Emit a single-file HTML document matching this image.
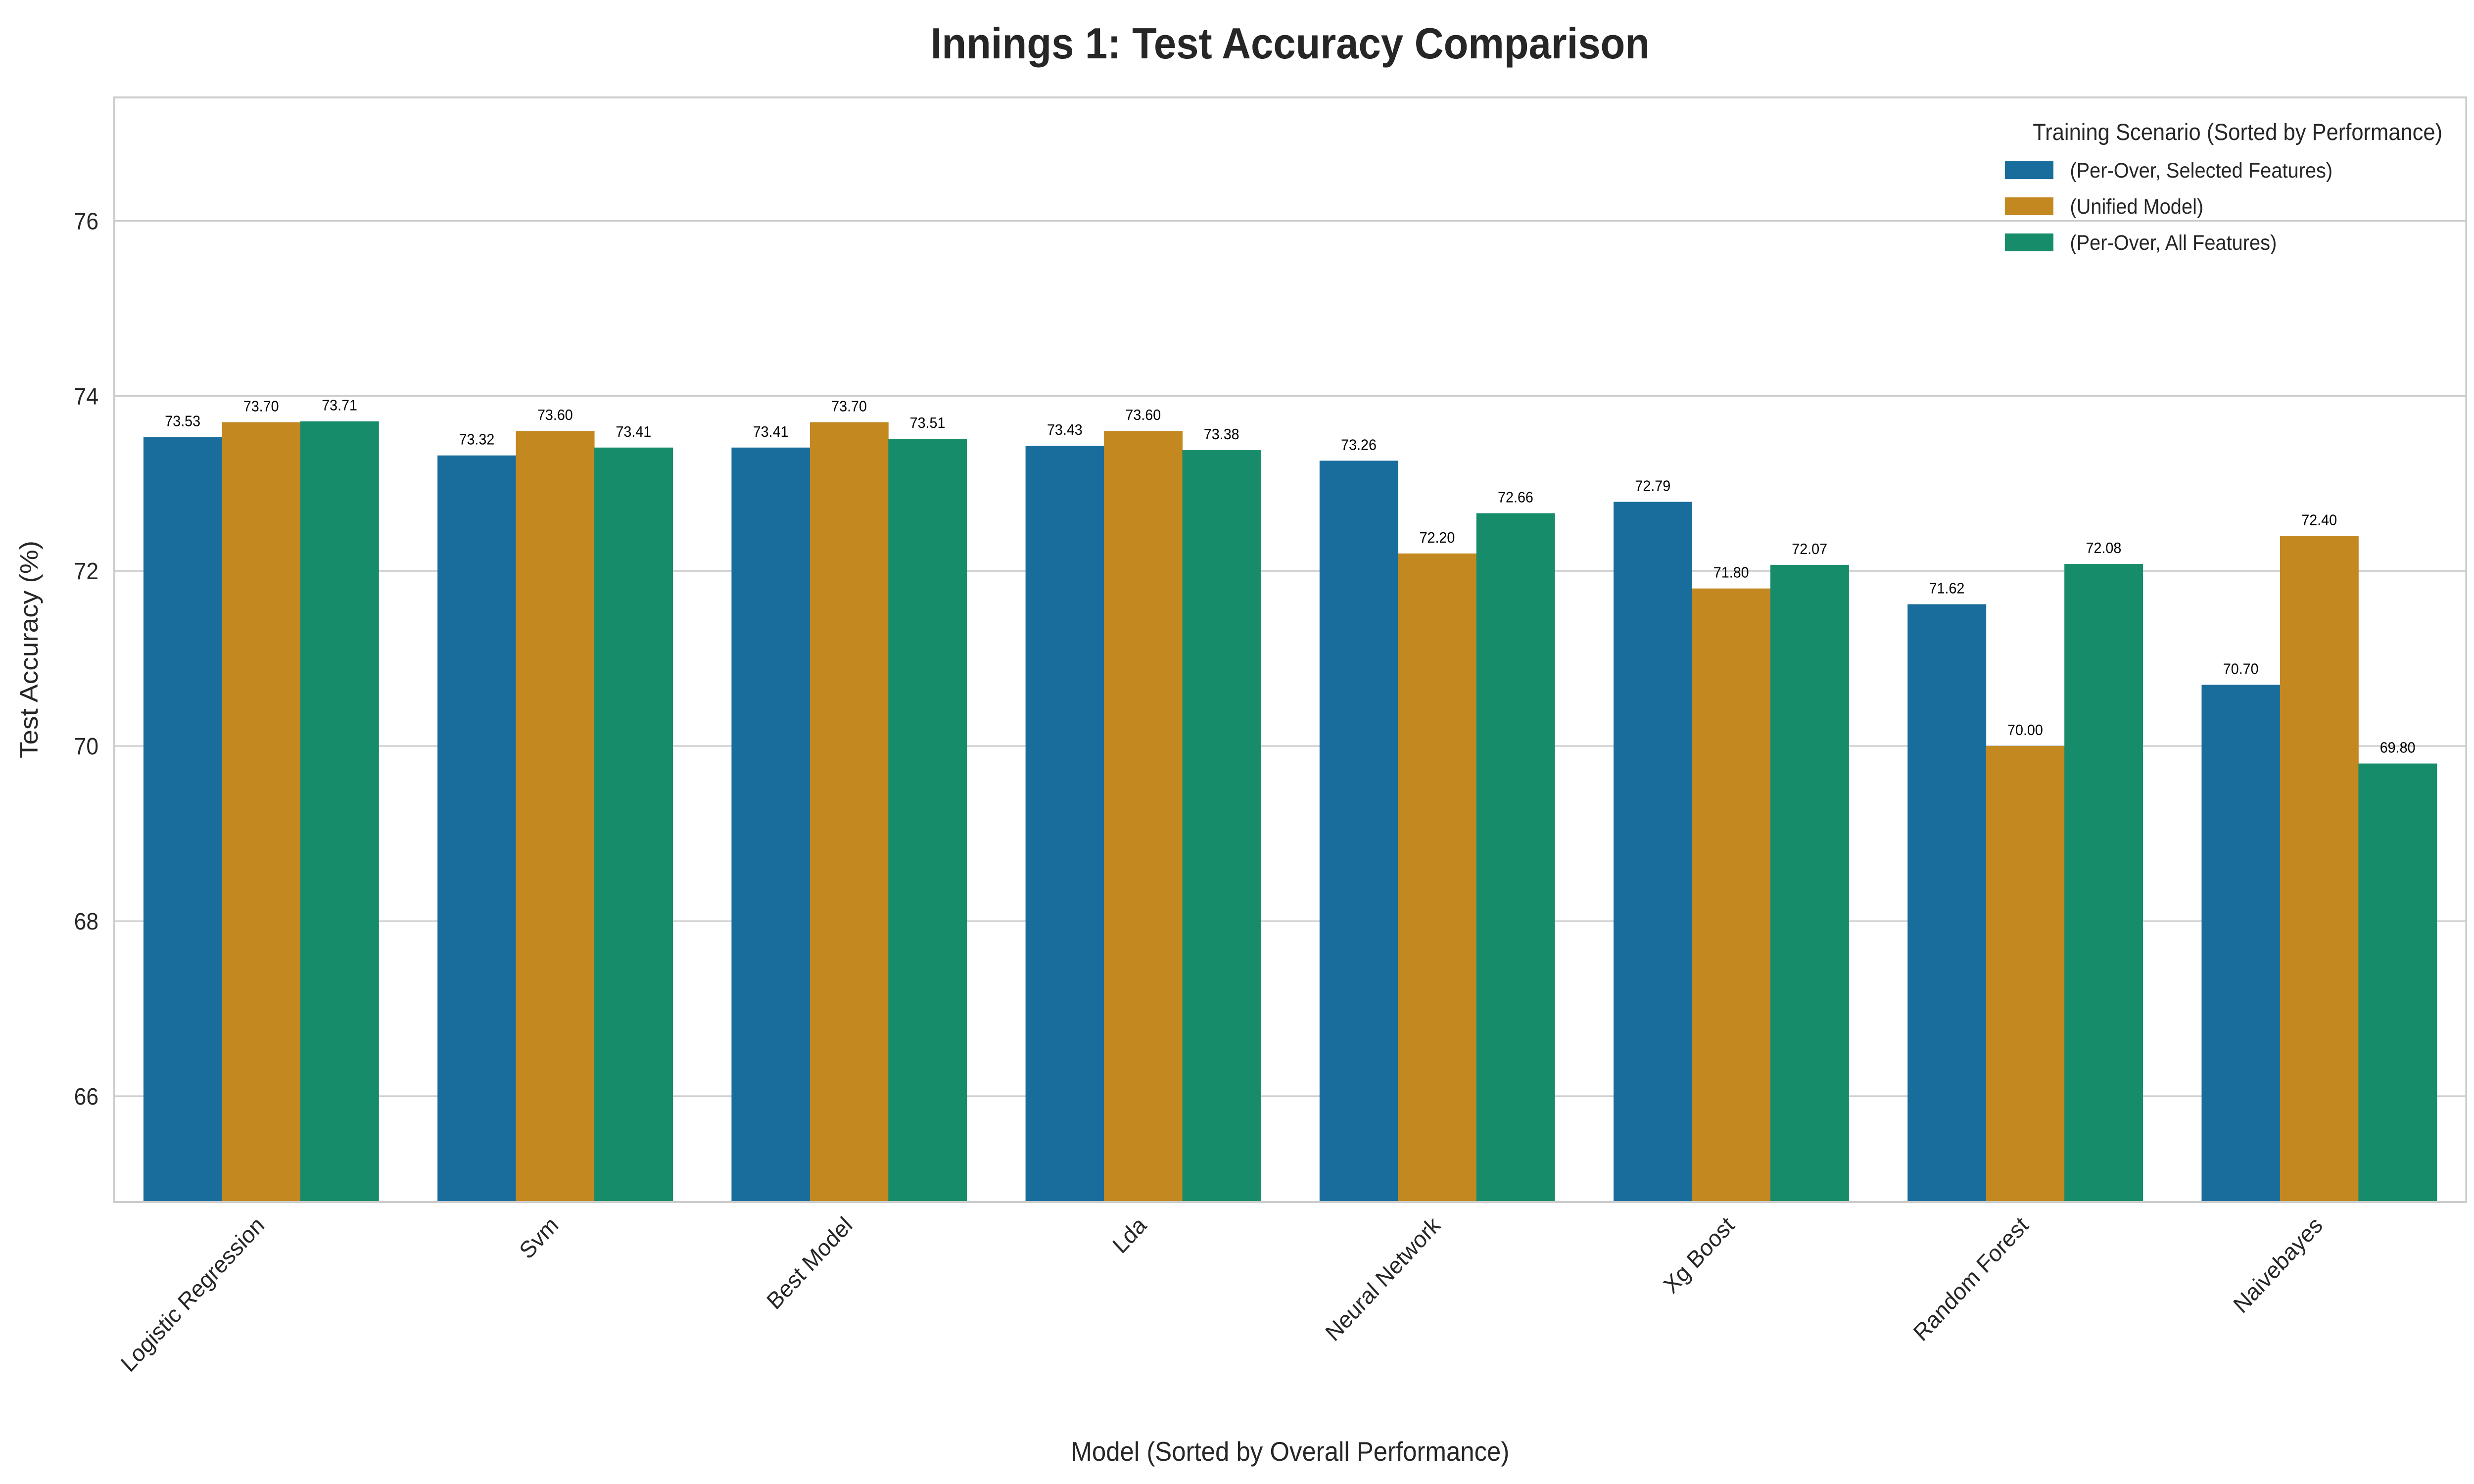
<!DOCTYPE html>
<html><head><meta charset="utf-8"><style>
html,body{margin:0;padding:0;background:#fff;overflow:hidden;width:100%;height:100%}
svg{display:block;position:fixed;left:0;top:0;width:100vw;height:100vh;font-family:"Liberation Sans",Arial,sans-serif}
</style></head><body>
<svg id="chart" viewBox="0 0 5400 3000" preserveAspectRatio="none">
<rect width="5400" height="3000" fill="#fff"/>
<text x="2816" y="118" text-anchor="middle" font-size="88" font-weight="bold" fill="#262626">Innings 1: Test Accuracy Comparison</text>
<g id="grid"></g>
<g id="bars"></g>
<g id="labels"></g>
<rect x="249" y="197" width="5134" height="2233" fill="none" stroke="#cccccc" stroke-width="4"/>
<g id="yticks"></g>
<g id="xticks"></g>
<text transform="translate(82,1313) rotate(-90)" text-anchor="middle" font-size="55" fill="#262626">Test Accuracy (%)</text>
<text x="2816" y="2953" text-anchor="middle" font-size="55" fill="#262626">Model (Sorted by Overall Performance)</text>
<g id="legend"></g>
</svg>
<script>
const categories = ["Logistic Regression","Svm","Best Model","Lda","Neural Network","Xg Boost","Random Forest","Naivebayes"];
const seriesNames = ["(Per-Over, Selected Features)","(Unified Model)","(Per-Over, All Features)"];
const perOverSelected = [73.53,73.32,73.41,73.43,73.26,72.79,71.62,70.70];
const unifiedModel = [73.70,73.60,73.70,73.60,72.20,71.80,70.00,72.40];
const perOverAll = [73.71,73.41,73.51,73.38,72.66,72.07,72.08,69.80];
const yTicks = [66,68,70,72,74,76];
const seriesValues = [perOverSelected, unifiedModel, perOverAll];
const colors = ["#186d9c","#c38820","#178c6a"];
const NS = "http://www.w3.org/2000/svg";
const L=249,R=5383,T=197,B=2430,yMin=64.79,yMax=77.41;
const y = v => B - (v-yMin)/(yMax-yMin)*(B-T);
const step = (R-L)/categories.length;
const xc = i => L + step*(i+0.5);
const bw = step*0.8/3;
function mk(tag, attrs, parent){const e=document.createElementNS(NS,tag);for(const k in attrs)e.setAttribute(k,attrs[k]);document.getElementById(parent).appendChild(e);return e;}
yTicks.forEach(t=>{
  const g=mk('line',{x1:L,x2:R,y1:y(t),y2:y(t),stroke:'#cccccc','stroke-width':3},'grid');
  
  
  const tx=mk('text',{x:215,y:y(t)+17,'text-anchor':'end','font-size':48,fill:'#262626'},'yticks');
  tx.textContent=t;
  
  
});
categories.forEach((c,i)=>{
  seriesValues.forEach((vals,s)=>{
    const x0=xc(i)-1.5*bw+s*bw;
    const r=mk('rect',{x:x0,y:y(vals[i]),width:bw+0.5,height:B-y(vals[i]),fill:colors[s]},'bars');
    
    
    const l=mk('text',{x:x0+bw/2,y:y(vals[i])-22,'text-anchor':'middle','font-size':31,fill:'#000'},'labels');
    l.textContent=vals[i].toFixed(2);
    
    
  });
  const t=mk('text',{transform:`translate(${xc(i)+10},${B+50}) rotate(-45)`,'text-anchor':'end','font-size':48,fill:'#262626'},'xticks');
  t.textContent=c;
  
  
});
const lt=mk('text',{x:5331,y:283,'text-anchor':'end','font-size':47,fill:'#262626'},'legend');
lt.textContent="Training Scenario (Sorted by Performance)";


seriesNames.forEach((n,s)=>{
  const cy=344+s*73;
  const p=mk('rect',{x:4376,y:cy-18,width:106,height:36,fill:colors[s]},'legend');
  
  
  const t=mk('text',{x:4518,y:cy+15,'font-size':43,fill:'#262626'},'legend');
  t.textContent=n;
  
  
});
</script>
</body></html>
